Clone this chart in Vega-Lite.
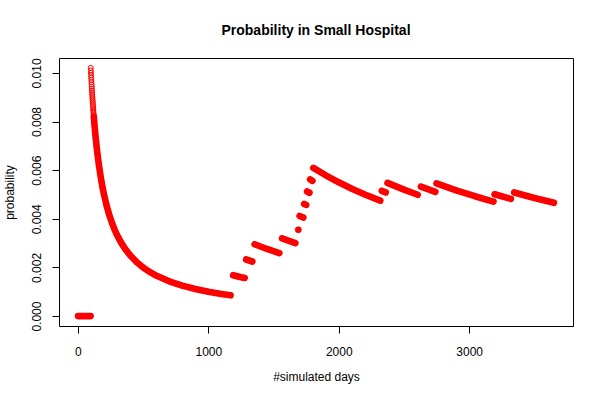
{
  "$schema": "https://vega.github.io/schema/vega-lite/v6.json",
  "width": 514,
  "height": 268,
  "autosize": "none",
  "padding": {"left": 59, "top": 58, "right": 27, "bottom": 74},
  "background": "white",
  "config": {
    "font": "Liberation Sans",
    "view": {"stroke": "black", "strokeWidth": 1},
    "axis": {
      "domain": false,
      "grid": false,
      "tickColor": "black",
      "tickSize": 7,
      "labelFont": "Liberation Sans",
      "labelFontSize": 12,
      "labelColor": "black",
      "titleFont": "Liberation Sans",
      "titleFontSize": 12,
      "titleFontWeight": "normal",
      "titleColor": "black"
    }
  },
  "title": {
    "text": "Probability in Small Hospital",
    "fontSize": 14,
    "fontWeight": "bold",
    "font": "Liberation Sans",
    "color": "black",
    "anchor": "middle",
    "offset": 20
  },
  "data": {
    "values": [
      {"d": 1, "p": 0, "k": 0},
      {"d": 10, "p": 0, "k": 0},
      {"d": 20, "p": 0, "k": 0},
      {"d": 30, "p": 0, "k": 0},
      {"d": 40, "p": 0, "k": 0},
      {"d": 50, "p": 0, "k": 0},
      {"d": 60, "p": 0, "k": 0},
      {"d": 70, "p": 0, "k": 0},
      {"d": 80, "p": 0, "k": 0},
      {"d": 90, "p": 0, "k": 0},
      {"d": 97, "p": 0, "k": 0},
      {"d": 98, "p": 0.010204, "k": 1},
      {"d": 99, "p": 0.010101, "k": 1},
      {"d": 100, "p": 0.010000, "k": 1},
      {"d": 101, "p": 0.009901, "k": 1},
      {"d": 102, "p": 0.009804, "k": 1},
      {"d": 103, "p": 0.009709, "k": 1},
      {"d": 104, "p": 0.009615, "k": 1},
      {"d": 105, "p": 0.009524, "k": 1},
      {"d": 106, "p": 0.009434, "k": 1},
      {"d": 107, "p": 0.009346, "k": 1},
      {"d": 108, "p": 0.009259, "k": 1},
      {"d": 109, "p": 0.009174, "k": 1},
      {"d": 110, "p": 0.009091, "k": 1},
      {"d": 111, "p": 0.009009, "k": 1},
      {"d": 112, "p": 0.008929, "k": 1},
      {"d": 113, "p": 0.008850, "k": 1},
      {"d": 114, "p": 0.008772, "k": 1},
      {"d": 115, "p": 0.008696, "k": 1},
      {"d": 116, "p": 0.008621, "k": 1},
      {"d": 117, "p": 0.008547, "k": 1},
      {"d": 118, "p": 0.008475, "k": 1},
      {"d": 119, "p": 0.008403, "k": 1},
      {"d": 120, "p": 0.008333, "k": 1},
      {"d": 121, "p": 0.008264, "k": 1},
      {"d": 122, "p": 0.008197, "k": 1},
      {"d": 123, "p": 0.008130, "k": 1},
      {"d": 124, "p": 0.008065, "k": 1},
      {"d": 125, "p": 0.008000, "k": 1},
      {"d": 130, "p": 0.007692, "k": 1},
      {"d": 135, "p": 0.007407, "k": 1},
      {"d": 140, "p": 0.007143, "k": 1},
      {"d": 145, "p": 0.006897, "k": 1},
      {"d": 150, "p": 0.006667, "k": 1},
      {"d": 160, "p": 0.006250, "k": 1},
      {"d": 170, "p": 0.005882, "k": 1},
      {"d": 180, "p": 0.005556, "k": 1},
      {"d": 190, "p": 0.005263, "k": 1},
      {"d": 200, "p": 0.005000, "k": 1},
      {"d": 220, "p": 0.004545, "k": 1},
      {"d": 240, "p": 0.004167, "k": 1},
      {"d": 260, "p": 0.003846, "k": 1},
      {"d": 280, "p": 0.003571, "k": 1},
      {"d": 300, "p": 0.003333, "k": 1},
      {"d": 330, "p": 0.003030, "k": 1},
      {"d": 360, "p": 0.002778, "k": 1},
      {"d": 400, "p": 0.002500, "k": 1},
      {"d": 450, "p": 0.002222, "k": 1},
      {"d": 500, "p": 0.002000, "k": 1},
      {"d": 550, "p": 0.001818, "k": 1},
      {"d": 600, "p": 0.001667, "k": 1},
      {"d": 700, "p": 0.001429, "k": 1},
      {"d": 800, "p": 0.001250, "k": 1},
      {"d": 900, "p": 0.001111, "k": 1},
      {"d": 1000, "p": 0.001000, "k": 1},
      {"d": 1100, "p": 0.000909, "k": 1},
      {"d": 1170, "p": 0.000855, "k": 1},
      {"d": 1190, "p": 0.001681, "k": 2},
      {"d": 1235, "p": 0.001619, "k": 2},
      {"d": 1278, "p": 0.001565, "k": 2},
      {"d": 1290, "p": 0.002326, "k": 3},
      {"d": 1337, "p": 0.002244, "k": 3},
      {"d": 1355, "p": 0.002952, "k": 4},
      {"d": 1450, "p": 0.002759, "k": 4},
      {"d": 1544, "p": 0.002591, "k": 4},
      {"d": 1565, "p": 0.003195, "k": 5},
      {"d": 1667, "p": 0.002999, "k": 5},
      {"d": 1690, "p": 0.003550, "k": 6},
      {"d": 1700, "p": 0.004118, "k": 7},
      {"d": 1728, "p": 0.004051, "k": 7},
      {"d": 1735, "p": 0.004611, "k": 8},
      {"d": 1750, "p": 0.004571, "k": 8},
      {"d": 1757, "p": 0.005122, "k": 9},
      {"d": 1775, "p": 0.005070, "k": 9},
      {"d": 1780, "p": 0.005618, "k": 10},
      {"d": 1798, "p": 0.005562, "k": 10},
      {"d": 1805, "p": 0.006094, "k": 11},
      {"d": 1900, "p": 0.005789, "k": 11},
      {"d": 2000, "p": 0.005500, "k": 11},
      {"d": 2100, "p": 0.005238, "k": 11},
      {"d": 2200, "p": 0.005000, "k": 11},
      {"d": 2318, "p": 0.004745, "k": 11},
      {"d": 2330, "p": 0.005150, "k": 12},
      {"d": 2360, "p": 0.005085, "k": 12},
      {"d": 2374, "p": 0.005476, "k": 13},
      {"d": 2490, "p": 0.005221, "k": 13},
      {"d": 2605, "p": 0.004990, "k": 13},
      {"d": 2630, "p": 0.005323, "k": 14},
      {"d": 2740, "p": 0.005109, "k": 14},
      {"d": 2750, "p": 0.005455, "k": 15},
      {"d": 2900, "p": 0.005172, "k": 15},
      {"d": 3050, "p": 0.004918, "k": 15},
      {"d": 3186, "p": 0.004708, "k": 15},
      {"d": 3195, "p": 0.005008, "k": 16},
      {"d": 3320, "p": 0.004819, "k": 16},
      {"d": 3345, "p": 0.005082, "k": 17},
      {"d": 3500, "p": 0.004857, "k": 17},
      {"d": 3650, "p": 0.004658, "k": 17}
    ]
  },
  "encoding": {
    "x": {
      "field": "d",
      "type": "quantitative",
      "scale": {"domain": [-145, 3796], "nice": false, "zero": false},
      "axis": {
        "title": "#simulated days",
        "values": [0, 1000, 2000, 3000],
        "format": "d",
        "labelPadding": 13,
        "titlePadding": 14
      }
    },
    "y": {
      "field": "p",
      "type": "quantitative",
      "scale": {"domain": [-0.000408, 0.010612], "nice": false, "zero": false},
      "axis": {
        "title": "probability",
        "values": [0, 0.002, 0.004, 0.006, 0.008, 0.010],
        "format": ".3f",
        "labelAngle": -90,
        "labelAlign": "center",
        "labelBaseline": "bottom",
        "labelPadding": 9,
        "titlePadding": 14
      }
    }
  },
  "layer": [
    {
      "transform": [{"filter": "datum.k != 1 || datum.d >= 122"}],
      "mark": {"type": "line", "color": "#ff0000", "strokeWidth": 6.6, "strokeCap": "round", "strokeJoin": "round"},
      "encoding": {"detail": {"field": "k", "type": "nominal"}}
    },
    {
      "mark": {"type": "point", "shape": "circle", "filled": false, "color": "#ff0000", "size": 25, "strokeWidth": 1, "opacity": 1}
    }
  ]
}
